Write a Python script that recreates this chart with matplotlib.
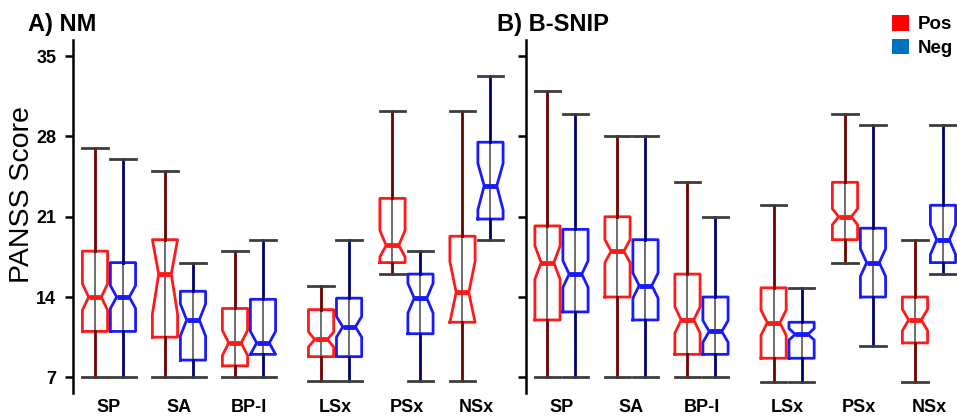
import matplotlib
matplotlib.use("Agg")
import matplotlib.pyplot as plt
from matplotlib.patches import Patch

plt.rcParams["font.family"] = ["Liberation Sans", "DejaVu Sans"]

groups = ["SP", "SA", "BP-I", "LSx", "PSx", "NSx"]
group_x = [1, 2, 3, 4.23, 5.25, 6.25]

# A) NM, positive symptoms
nm_pos_lo = [7, 7, 7, 6.7, 16, 6.7]
nm_pos_q1 = [11, 10.5, 8, 8.8, 17, 11.8]
nm_pos_med = [14, 16, 10, 10.3, 18.5, 14.4]
nm_pos_q3 = [18, 19, 13, 12.9, 22.6, 19.3]
nm_pos_hi = [27, 25, 18, 15, 30.2, 30.2]
nm_pos_cilo = [12.85, 12.5, 8.9, 9.65, 17.5, 11.8]
nm_pos_cihi = [15.15, 19, 11.1, 10.95, 19.8, 17.1]

# A) NM, negative symptoms
nm_neg_lo = [7, 7, 7, 6.7, 6.7, 19]
nm_neg_q1 = [11, 8.5, 9, 8.8, 10.8, 20.8]
nm_neg_med = [14, 12, 10, 11.4, 13.9, 23.7]
nm_neg_q3 = [17, 14.5, 13.8, 13.9, 16, 27.5]
nm_neg_hi = [26, 17, 19, 19, 18, 33.3]
nm_neg_cilo = [13, 10.6, 9, 10.5, 12.6, 21.6]
nm_neg_cihi = [15, 13.4, 11, 12.3, 15.2, 25.65]

# B) B-SNIP, positive symptoms
bs_pos_lo = [7, 7, 7, 6.6, 17, 6.6]
bs_pos_q1 = [12, 14, 9, 8.66, 19, 10]
bs_pos_med = [17, 18, 12, 11.76, 21, 12]
bs_pos_q3 = [20.2, 21, 16, 14.8, 24, 14]
bs_pos_hi = [32, 28, 24, 22, 30, 19]
bs_pos_cilo = [15.55, 17, 10.85, 10.66, 20.3, 11.07]
bs_pos_cihi = [18.45, 19, 13.15, 12.86, 21.7, 12.93]

# B) B-SNIP, negative symptoms
bs_neg_lo = [7, 7, 7, 6.6, 9.7, 16]
bs_neg_q1 = [12.7, 12, 9, 8.66, 14, 17]
bs_neg_med = [16, 15, 11, 10.75, 17, 19]
bs_neg_q3 = [19.9, 19, 14, 11.8, 20, 22]
bs_neg_hi = [30, 28, 21, 14.76, 29, 29]
bs_neg_cilo = [14.84, 13.9, 10.05, 10.25, 15.8, 17.7]
bs_neg_cihi = [17.16, 16.1, 11.95, 11.25, 18.2, 20.3]

red, dark_red = "#ff1a1a", "#6e0000"
blue, dark_blue = "#1a1aff", "#00006e"


def make_stats(lo, q1, med, q3, hi, cilo, cihi):
    out = []
    for i in range(len(med)):
        out.append(dict(whislo=lo[i], q1=q1[i], med=med[i], q3=q3[i], whishi=hi[i],
                        cilo=cilo[i], cihi=cihi[i], fliers=[]))
    return out


def draw_boxes(ax, stats, offset, col, wcol):
    pos = [g + offset for g in group_x]
    ax.bxp(stats, positions=pos, widths=0.36, capwidths=0.36, shownotches=True,
           showfliers=False,
           boxprops=dict(color=col, linewidth=2),
           medianprops=dict(color=col, linewidth=3.5, solid_capstyle="butt"),
           whiskerprops=dict(color=wcol, linewidth=2),
           capprops=dict(color="#3c3c3c", linewidth=2))
    # thin line through the box
    ax.vlines(pos, [s["q1"] for s in stats], [s["q3"] for s in stats],
              color="#555555", linewidth=1.2, zorder=1)


fig = plt.figure(figsize=(9.57, 4.18), dpi=100)
ax1 = fig.add_axes([73 / 957, 1 - 393 / 418, 440 / 957, 353 / 418])
ax2 = fig.add_axes([526 / 957, 1 - 393 / 418, 431 / 957, 353 / 418])

panels = [
    (ax1, make_stats(nm_pos_lo, nm_pos_q1, nm_pos_med, nm_pos_q3, nm_pos_hi, nm_pos_cilo, nm_pos_cihi),
     make_stats(nm_neg_lo, nm_neg_q1, nm_neg_med, nm_neg_q3, nm_neg_hi, nm_neg_cilo, nm_neg_cihi)),
    (ax2, make_stats(bs_pos_lo, bs_pos_q1, bs_pos_med, bs_pos_q3, bs_pos_hi, bs_pos_cilo, bs_pos_cihi),
     make_stats(bs_neg_lo, bs_neg_q1, bs_neg_med, bs_neg_q3, bs_neg_hi, bs_neg_cilo, bs_neg_cihi)),
]

for ax, pos_stats, neg_stats in panels:
    draw_boxes(ax, pos_stats, -0.2, red, dark_red)
    draw_boxes(ax, neg_stats, 0.2, blue, dark_blue)
    ax.set_ylim(5.63, 36.41)
    ax.set_yticks([7, 14, 21, 28, 35])
    ax.set_xticks(group_x)
    ax.set_xticklabels(groups, fontsize=13, fontweight="bold")
    for sp in ["top", "right", "bottom"]:
        ax.spines[sp].set_visible(False)
    ax.spines["left"].set_linewidth(1.8)
    ax.tick_params(axis="y", length=6, width=1.8, pad=6, labelsize=13)
    ax.tick_params(axis="x", length=0, pad=4)
    for lab in ax.get_yticklabels():
        lab.set_fontweight("bold")

ax1.set_xlim(0.486, 0.486 + 440 / 70)
ax2.set_xlim(0.493, 0.493 + 431 / 70)
ax2.tick_params(axis="y", labelleft=False)

fig.text(22 / 957, 1 - 195 / 418, "PANSS Score", rotation=90, fontsize=20.5,
         ha="center", va="center")
fig.text(28 / 957, 1 - 31 / 418, "A) NM", fontsize=17, fontweight="bold", va="baseline")
fig.text(497 / 957, 1 - 31 / 418, "B) B-SNIP", fontsize=17, fontweight="bold", va="baseline")

handles = [Patch(facecolor="#ff0000", edgecolor="none", label="Pos"),
           Patch(facecolor="#0070c0", edgecolor="none", label="Neg")]
fig.legend(handles=handles, loc="upper left", bbox_to_anchor=(892 / 957, 1 - 15 / 418),
           frameon=False, borderpad=0, borderaxespad=0, handlelength=0.9,
           handleheight=0.9, handletextpad=0.45, labelspacing=0.3,
           prop=dict(family="Liberation Sans", weight="bold", size=13.5))

fig.savefig("out.png", dpi=100)
